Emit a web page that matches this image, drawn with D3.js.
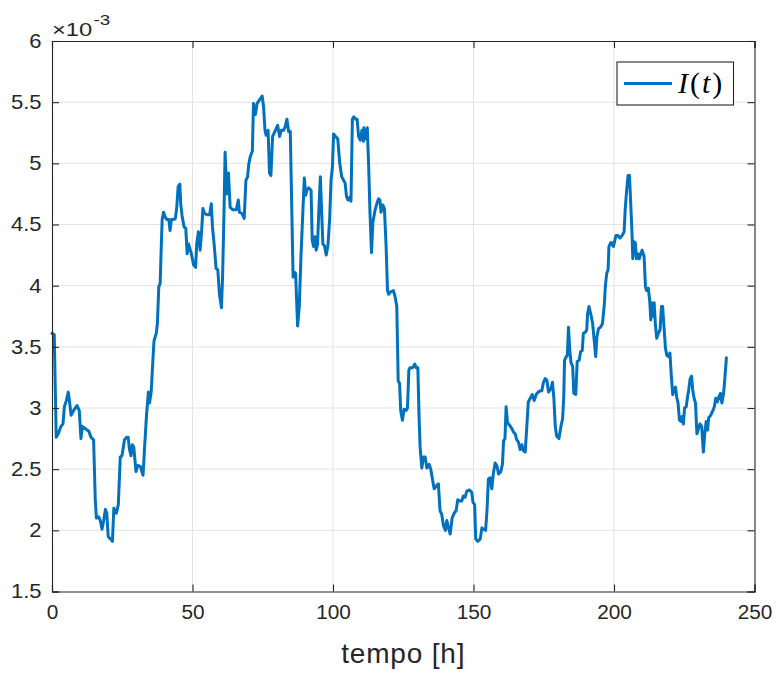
<!DOCTYPE html>
<html>
<head>
<meta charset="utf-8">
<script src="https://cdn.jsdelivr.net/npm/d3@7"></script>
<style>
  html, body { margin: 0; padding: 0; background: #ffffff; }
  svg { display: block; }
</style>
</head>
<body>
<svg id="chart" width="777" height="673"></svg>
<script>
// ---- data (values in units of 10^-3) ----
const hours = [
0,0.8,1.5,2.4,3.2,3.9,4.4,5.1,5.8,6.2,6.8,7.7,8.9,9.7,10.3,10.8,11.9,13.1,13.9,14.8,
15.4,15.8,16.6,17.2,17.8,18.4,19.0,19.5,20.0,20.8,21.5,22.0,22.9,23.6,24.3,24.9,25.8,26.5,27.1,27.6,
28.1,28.6,29.1,29.9,30.5,31.5,32.4,32.9,33.6,34.3,34.7,35.3,35.9,36.3,37.1,37.5,38.0,38.5,38.8,39.2,
39.7,40.3,40.9,41.6,42.0,42.5,43.2,43.9,44.4,44.9,45.5,45.8,46.3,47.0,47.6,48.1,48.6,49.1,49.6,50.4,
51.1,51.5,52.1,52.7,53.2,53.7,54.3,55.1,56.1,56.7,57.1,57.7,58.4,59.0,59.6,60.3,60.7,61.2,61.6,62.2,
62.8,63.4,64.4,65.6,66.3,66.7,67.6,68.4,69.0,69.6,70.0,70.5,71.3,71.7,72.4,73.0,73.9,74.8,75.3,75.8,
76.2,76.9,77.4,77.9,78.5,79.3,80.3,81.0,81.6,82.4,83.0,83.6,84.2,84.8,85.8,86.2,86.7,87.4,88.0,88.6,
89.3,89.8,90.3,90.7,91.3,92.2,92.6,93.1,93.6,94.0,94.5,95.0,95.5,95.9,96.4,96.9,97.6,98.2,98.8,99.3,
99.8,100.2,100.9,101.7,102.4,103.1,103.8,104.3,104.8,105.3,105.9,106.4,106.9,107.4,108.1,108.6,109.1,109.7,110.3,110.8,
111.0,111.6,112.2,112.7,113.2,113.7,114.2,115.0,115.6,116.2,116.7,117.1,117.7,118.3,118.9,119.4,119.8,120.5,121.5,122.1,
122.7,123.2,123.7,124.1,124.7,125.3,126.0,126.5,127.0,127.4,128.4,129.1,129.6,130.2,130.6,131.0,131.6,132.2,132.8,133.4,
134.2,134.8,135.3,136.0,136.7,137.5,138.1,138.7,139.3,140.0,140.5,141.1,141.7,142.4,143.1,143.8,144.4,145.2,145.8,146.4,
147.0,147.6,148.6,149.4,149.8,150.4,150.8,151.5,152.4,153.0,153.6,154.3,154.8,155.3,155.9,156.5,157.1,157.7,158.3,158.9,
159.7,160.3,160.7,161.2,161.6,162.1,162.8,163.7,164.3,164.8,165.4,166.0,166.6,167.2,167.8,168.4,169.0,169.5,170.2,170.9,
171.6,172.3,173.0,173.8,174.3,174.9,175.5,176.1,176.7,177.6,178.1,178.6,179.1,179.6,180.4,181.2,181.7,182.1,182.4,183.0,
183.4,183.8,184.3,184.7,185.3,185.7,186.4,186.9,187.6,188.1,188.7,189.1,189.8,190.3,190.6,191.1,191.9,192.4,193.0,193.5,
193.9,194.5,195.2,195.9,196.6,196.9,197.4,197.9,198.2,198.8,199.3,199.8,200.2,200.7,201.4,202.1,202.9,203.6,204.0,204.5,
205.0,205.5,205.9,206.4,206.7,207.1,207.6,208.0,208.6,209.0,209.5,210.0,210.7,211.2,211.6,212.2,212.7,213.1,213.4,213.8,
214.3,214.7,215.2,215.8,216.4,216.9,217.3,217.8,218.3,218.8,219.5,219.9,220.4,220.9,221.4,221.9,222.3,222.8,223.3,223.8,
224.2,224.7,225.1,225.7,226.1,226.6,227.1,227.6,228.0,228.5,229.0,229.5,229.9,230.6,231.2,231.8,232.3,232.8,233.3,233.7,
234.4,235.2,235.7,236.2,236.8,237.3,237.9,238.4,239.0,239.3,240.0
];
const current = [
3.61,3.60,2.76,2.80,2.85,2.87,3.01,3.06,3.13,3.06,2.94,2.98,3.02,2.98,2.75,2.85,2.83,2.81,2.76,2.74,
2.25,2.10,2.11,2.08,2.01,2.08,2.17,2.14,1.95,1.93,1.91,2.18,2.14,2.21,2.60,2.61,2.74,2.76,2.76,2.66,
2.61,2.70,2.68,2.48,2.53,2.52,2.45,2.66,2.93,3.13,3.04,3.13,3.39,3.55,3.61,3.69,3.99,4.02,4.26,4.54,
4.60,4.56,4.54,4.54,4.45,4.54,4.54,4.55,4.64,4.81,4.83,4.67,4.57,4.48,4.47,4.26,4.34,4.30,4.26,4.17,
4.15,4.34,4.44,4.29,4.43,4.63,4.59,4.58,4.58,4.67,4.48,4.34,4.14,4.13,3.93,3.82,4.07,4.59,5.09,4.75,
4.92,4.64,4.62,4.62,4.70,4.60,4.59,4.55,4.86,4.89,4.99,5.05,5.10,5.49,5.40,5.49,5.52,5.55,5.46,5.27,
5.23,5.27,4.92,4.90,5.22,5.26,5.31,5.22,5.27,5.27,5.30,5.36,5.26,5.26,4.07,4.11,4.10,3.67,3.83,4.24,
4.62,4.88,4.74,4.78,4.80,4.78,4.37,4.32,4.40,4.29,4.34,4.64,4.89,4.64,4.34,4.33,4.25,4.33,4.54,4.86,
4.97,5.24,5.22,5.20,5.00,4.89,4.86,4.84,4.73,4.70,4.72,4.69,5.36,5.38,5.36,5.36,5.22,5.19,5.27,5.18,
5.29,5.20,5.29,4.97,4.57,4.27,4.52,4.62,4.67,4.71,4.70,4.60,4.66,4.63,4.32,3.96,3.93,3.95,3.96,3.91,
3.83,3.22,3.20,2.98,2.90,2.99,2.98,3.00,3.31,3.33,3.33,3.36,3.33,3.33,2.95,2.68,2.51,2.60,2.60,2.51,
2.54,2.50,2.43,2.34,2.36,2.38,2.16,2.13,2.04,2.00,2.08,2.02,1.97,2.10,2.14,2.16,2.25,2.24,2.24,2.28,
2.27,2.32,2.33,2.31,2.23,2.21,1.93,1.91,1.93,2.02,2.01,2.00,2.16,2.42,2.43,2.34,2.47,2.55,2.53,2.46,
2.48,2.54,2.73,2.75,3.01,2.88,2.86,2.83,2.80,2.79,2.74,2.72,2.66,2.70,2.65,2.64,2.86,3.05,3.08,3.11,
3.06,3.11,3.13,3.14,3.14,3.21,3.24,3.23,3.13,3.16,3.21,3.08,2.85,2.77,2.75,2.86,2.91,3.08,3.39,3.42,
3.43,3.66,3.46,3.37,3.34,3.12,3.11,3.38,3.39,3.46,3.47,3.61,3.62,3.64,3.77,3.83,3.75,3.69,3.54,3.42,
3.58,3.65,3.66,3.69,3.86,3.99,4.10,4.13,4.32,4.35,4.35,4.32,4.36,4.41,4.41,4.39,4.41,4.44,4.63,4.78,
4.90,4.90,4.70,4.43,4.22,4.36,4.35,4.22,4.26,4.22,4.26,4.29,4.24,3.99,3.96,3.98,3.88,3.72,3.86,3.75,
3.86,3.69,3.57,3.61,3.64,3.83,3.83,3.66,3.49,3.43,3.42,3.45,3.26,3.11,3.16,3.17,3.09,3.04,2.90,2.89,
2.93,2.87,3.00,3.01,3.08,3.15,3.24,3.26,3.15,3.08,3.04,2.79,2.82,2.87,2.85,2.64,2.79,2.89,2.82,2.92,
2.94,2.98,3.01,3.08,3.05,3.09,3.12,3.04,3.12,3.20,3.41
];
const xTicks = [0, 50, 100, 150, 200, 250];
const yTicks = [1.5, 2, 2.5, 3, 3.5, 4, 4.5, 5, 5.5, 6];
const xLabel = "tempo [h]";
const exponentBase = "\u00d710";
const exponentPower = "-3";

// ---- layout ----
const svg = d3.select("#chart");
const L = 52, R = 754.5, T = 41, B = 591.5;
const x = d3.scaleLinear().domain([0, 250]).range([L, R]);
const y = d3.scaleLinear().domain([1.5, 6]).range([B, T]);
const axisColor = "#262626";
const tickFont = "'Liberation Sans', Arial, Helvetica, sans-serif";

// grid
const grid = svg.append("g");
grid.selectAll("line.gx").data(xTicks.slice(1, -1)).enter().append("line")
  .attr("x1", d => x(d)).attr("x2", d => x(d)).attr("y1", T).attr("y2", B)
  .attr("stroke", "#e3e3e3").attr("stroke-width", 1);
grid.selectAll("line.gy").data(yTicks.slice(1, -1)).enter().append("line")
  .attr("x1", L).attr("x2", R).attr("y1", d => y(d)).attr("y2", d => y(d))
  .attr("stroke", "#e3e3e3").attr("stroke-width", 1);

// line
const line = d3.line().x((d, i) => x(hours[i])).y(d => y(d));
svg.append("path").datum(current)
  .attr("d", line).attr("fill", "none")
  .attr("stroke", "#0072BD").attr("stroke-width", 3)
  .attr("stroke-linejoin", "round").attr("stroke-linecap", "round");

// axes with inward ticks
const tickLen = 7;
const fmt = d => String(d);
const axB = svg.append("g").attr("transform", `translate(0,${B})`)
  .call(d3.axisBottom(x).tickValues(xTicks).tickSize(-tickLen).tickPadding(13).tickFormat(fmt));
const axT = svg.append("g").attr("transform", `translate(0,${T})`)
  .call(d3.axisTop(x).tickValues(xTicks).tickSize(-tickLen).tickFormat(""));
const axL = svg.append("g").attr("transform", `translate(${L},0)`)
  .call(d3.axisLeft(y).tickValues(yTicks).tickSize(-tickLen).tickPadding(10).tickFormat(fmt));
const axR = svg.append("g").attr("transform", `translate(${R},0)`)
  .call(d3.axisRight(y).tickValues(yTicks).tickSize(-tickLen).tickFormat(""));
[axB, axT, axL, axR].forEach(g => {
  g.select(".domain").attr("stroke", axisColor).attr("stroke-width", 1.1);
  g.selectAll(".tick line").attr("stroke", axisColor).attr("stroke-width", 1.1);
  g.selectAll(".tick text").attr("fill", axisColor)
    .style("font-family", tickFont).style("font-size", "20px");
});
// slight horizontal stretch of y tick labels (Helvetica-like width)
const sY = 1.1;
axL.selectAll(".tick text").attr("x", -10.5 / sY).attr("transform", `scale(${sY},1)`);
axB.selectAll(".tick text").attr("transform", "scale(1.04,1)");

// x label
svg.append("text").attr("x", (L + R) / 2).attr("y", 663)
  .attr("text-anchor", "middle").attr("fill", axisColor)
  .style("font-family", tickFont).style("font-size", "28px")
  .style("letter-spacing", "0.8px")
  .text(xLabel);

// exponent label
const ex = svg.append("text").attr("transform", "translate(52,36) scale(1.25,1)")
  .attr("fill", axisColor).style("font-family", tickFont).style("font-size", "19px");
ex.append("tspan").text(exponentBase);
ex.append("tspan").attr("dy", -11).attr("dx", 1).style("font-size", "15px").text(exponentPower);

// legend
const lg = svg.append("g");
lg.append("rect").attr("x", 617).attr("y", 62).attr("width", 116.5).attr("height", 43)
  .attr("fill", "#ffffff").attr("stroke", axisColor).attr("stroke-width", 1.1);
lg.append("line").attr("x1", 624).attr("x2", 672).attr("y1", 83.5).attr("y2", 83.5)
  .attr("stroke", "#0072BD").attr("stroke-width", 3);
const lt = lg.append("text").attr("x", 678).attr("y", 93)
  .attr("fill", "#000").style("font-family", "'Liberation Serif', 'Times New Roman', serif")
  .style("font-size", "30px").style("letter-spacing", "2px");
lt.append("tspan").style("font-style", "italic").text("I");
lt.append("tspan").text("(");
lt.append("tspan").style("font-style", "italic").text("t");
lt.append("tspan").text(")");
</script>
</body>
</html>
